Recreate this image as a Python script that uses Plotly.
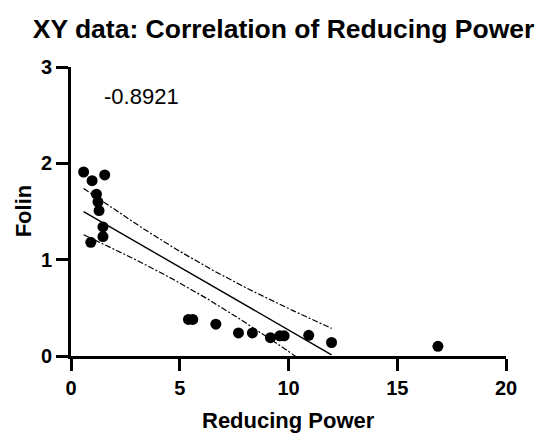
import numpy as np
import plotly.graph_objects as go

# ---- data ----
reducing_power = [0.58, 0.97, 1.55, 1.17, 1.24, 1.29, 1.47, 1.47, 0.91,
                  5.40, 5.60, 6.66, 7.70, 8.34, 9.17, 9.60, 9.80, 10.93, 11.98, 16.87]
folin = [1.91, 1.82, 1.88, 1.68, 1.60, 1.51, 1.34, 1.24, 1.18,
         0.38, 0.38, 0.33, 0.24, 0.24, 0.19, 0.21, 0.21, 0.215, 0.14, 0.10]
r_label = "-0.8921"
title_text = "XY data: Correlation of Reducing Power"
x_title = "Reducing Power"
y_title = "Folin"
x_ticks = [0, 5, 10, 15, 20]
y_ticks = [0, 1, 2, 3]

x = np.array(reducing_power)
y = np.array(folin)
n = len(x)

# linear regression with 95% confidence band of the fit
slope, intercept = np.polyfit(x, y, 1)
resid = y - (slope * x + intercept)
s = np.sqrt(np.sum(resid ** 2) / (n - 2))
sxx = np.sum((x - x.mean()) ** 2)


def t_ppf975(df):
    # numeric inverse of Student t cdf at 0.975
    from math import lgamma, exp, pi, sqrt
    c = exp(lgamma((df + 1) / 2) - lgamma(df / 2)) / sqrt(df * pi)
    grid = np.linspace(0, 6, 60001)
    pdf = c * (1 + grid ** 2 / df) ** (-(df + 1) / 2)
    cdf = 0.5 + np.concatenate([[0], np.cumsum((pdf[1:] + pdf[:-1]) / 2 * np.diff(grid))])
    return float(np.interp(0.975, cdf, grid))


t = t_ppf975(n - 2)
fit_x_max = np.sort(x)[-2]
xf = np.linspace(x.min(), fit_x_max, 200)
yf = slope * xf + intercept
hw = t * s * np.sqrt(1 / n + (xf - x.mean()) ** 2 / sxx)

FONT = "Liberation Sans, Arial, sans-serif"

fig = go.Figure()
band_style = dict(color="black", width=1.2, dash="6px,2px,2px,2px")
fig.add_trace(go.Scatter(x=xf, y=yf + hw, mode="lines", line=band_style,
                         hoverinfo="skip", showlegend=False))
fig.add_trace(go.Scatter(x=xf, y=yf - hw, mode="lines", line=band_style,
                         hoverinfo="skip", showlegend=False))
fig.add_trace(go.Scatter(x=xf, y=yf, mode="lines",
                         line=dict(color="black", width=1.4),
                         hoverinfo="skip", showlegend=False))
fig.add_trace(go.Scatter(x=x, y=y, mode="markers",
                         marker=dict(color="black", size=11),
                         showlegend=False, cliponaxis=True))

fig.add_annotation(x=1.44, y=2.69, xref="x", yref="y", text=r_label,
                   showarrow=False, xanchor="left", yanchor="middle",
                   font=dict(family=FONT, size=22, color="black"))

title_font = dict(family=FONT, size=22, color="black", weight="bold")
fig.add_annotation(x=0.501, y=-0.2225, xref="paper", yref="paper", text=x_title,
                   showarrow=False, xanchor="center", yanchor="middle",
                   font=title_font)
fig.add_annotation(x=-0.1103, y=0.5007, xref="paper", yref="paper", text=y_title,
                   showarrow=False, xanchor="center", yanchor="middle",
                   textangle=-90, font=title_font)

axis_common = dict(
    showline=True, linecolor="black", linewidth=3,
    ticks="outside", ticklen=12, tickwidth=3, tickcolor="black",
    showgrid=False, zeroline=False, automargin=False,
    tickfont=dict(family=FONT, size=20, color="black", weight="bold"),
)

fig.update_layout(
    width=550, height=435,
    paper_bgcolor="white", plot_bgcolor="white",
    margin=dict(l=71, r=44, t=67, b=79),
    title=dict(text=title_text, x=0.5155, xanchor="center", xref="container",
               y=1 - 29 / 435, yanchor="middle", yref="container",
               font=dict(family=FONT, size=26.5, color="black", weight="bold")),
    xaxis=dict(range=[0, 20], tickvals=x_ticks, **axis_common),
    yaxis=dict(range=[0, 3], tickvals=y_ticks, **axis_common),
)

fig.write_html("out.html",
               config={"displayModeBar": False},
               post_script="document.body.style.margin='0';"
                           "document.body.style.overflow='hidden';")
